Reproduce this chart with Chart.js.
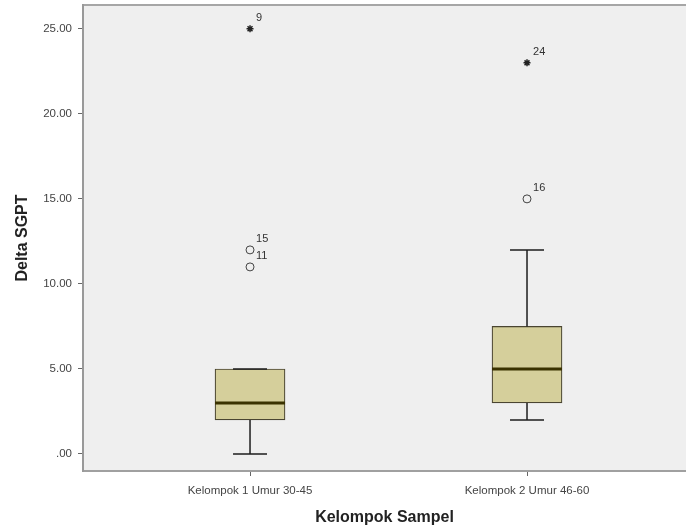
<!DOCTYPE html>
<html>
<head>
<meta charset="utf-8">
<script src="https://cdn.jsdelivr.net/npm/chart.js@4/dist/chart.umd.min.js"></script>
<style>
  html, body { margin: 0; padding: 0; background: #fff; }
</style>
</head>
<body>
<canvas id="box-chart" width="686" height="528"></canvas>
<script>
// groups and box statistics (Delta SGPT)
const groups = ['Kelompok 1 Umur 30-45', 'Kelompok 2 Umur 46-60'];
const groupPos = [1, 2];
const whiskerLow = [0, 2];
const q1 = [2, 3];
const median = [3, 5];
const q3 = [5, 7.5];
const whiskerHigh = [5, 12];

// outliers (o) and extremes (*) with case numbers
const outlierGroup = [1, 1, 2];
const outlierValue = [11, 12, 15];
const outlierCase = ['11', '15', '16'];
const extremeGroup = [1, 2];
const extremeValue = [25, 23];
const extremeCase = ['9', '24'];

const yTicks = [0, 5, 10, 15, 20, 25];

const FONT = "'Liberation Sans', Arial, sans-serif";
const capHalf = 17;
const boxWidth = 70;

const boxExtras = {
  id: 'boxExtras',
  beforeDraw(chart) {
    const { ctx, chartArea: a } = chart;
    ctx.save();
    ctx.fillStyle = '#efefef';
    ctx.fillRect(a.left, a.top, a.right - a.left, a.bottom - a.top);
    ctx.strokeStyle = '#a6a6a6';
    ctx.lineWidth = 2;
    ctx.beginPath();
    ctx.moveTo(a.left, a.top);
    ctx.lineTo(a.right, a.top);
    ctx.stroke();
    ctx.restore();
  },
  afterDatasetsDraw(chart) {
    const { ctx, scales: { x, y } } = chart;
    ctx.save();
    ctx.strokeStyle = '#1e1e1e';
    ctx.lineWidth = 1.5;
    groupPos.forEach((g, i) => {
      const px = x.getPixelForValue(g);
      [[q3[i], whiskerHigh[i]], [q1[i], whiskerLow[i]]].forEach(([from, to]) => {
        const py = y.getPixelForValue(to);
        ctx.beginPath();
        ctx.moveTo(px, y.getPixelForValue(from));
        ctx.lineTo(px, py);
        ctx.moveTo(px - capHalf, py);
        ctx.lineTo(px + capHalf, py);
        ctx.stroke();
      });
      // median
      ctx.save();
      ctx.strokeStyle = '#3a3200';
      ctx.lineWidth = 3;
      const my = y.getPixelForValue(median[i]);
      ctx.beginPath();
      ctx.moveTo(px - boxWidth / 2, my);
      ctx.lineTo(px + boxWidth / 2, my);
      ctx.stroke();
      ctx.restore();
    });

    // case number labels
    ctx.fillStyle = '#333';
    ctx.font = '11px ' + FONT;
    ctx.textAlign = 'left';
    ctx.textBaseline = 'middle';
    const label = (g, v, txt) => {
      ctx.fillText(txt, x.getPixelForValue(g) + 6, y.getPixelForValue(v) - 11);
    };
    outlierGroup.forEach((g, i) => label(g, outlierValue[i], outlierCase[i]));
    extremeGroup.forEach((g, i) => label(g, extremeValue[i], extremeCase[i]));
    ctx.restore();
  }
};

const ctx = document.getElementById('box-chart');

const data = {
  datasets: [
    {
      type: 'bar',
      data: groupPos.map((g, i) => ({ x: g, y: [q1[i], q3[i]] })),
      backgroundColor: '#d5cf9b',
      borderColor: '#4a4531',
      borderWidth: 1.2,
      borderSkipped: false,
      barThickness: boxWidth,
      grouped: false
    },
    {
      type: 'scatter',
      data: outlierGroup.map((g, i) => ({ x: g, y: outlierValue[i] })),
      pointStyle: 'circle',
      pointRadius: 4,
      pointBorderWidth: 1,
      pointBorderColor: '#444',
      pointBackgroundColor: 'rgba(0,0,0,0)'
    },
    {
      type: 'scatter',
      data: extremeGroup.map((g, i) => ({ x: g, y: extremeValue[i] })),
      pointStyle: 'star',
      pointRadius: 3.5,
      pointBorderWidth: 1.5,
      pointBorderColor: '#222',
      pointBackgroundColor: '#222'
    }
  ]
};

const config = {
  type: 'bar',
  data: data,
  plugins: [boxExtras],
  options: {
    responsive: false,
    animation: false,
    layout: { autoPadding: false, padding: { top: 5, left: 0, right: 0, bottom: 0 } },
    plugins: {
      legend: { display: false },
      tooltip: { enabled: false }
    },
    scales: {
      x: {
        type: 'linear',
        min: 0.397,
        max: 2.574,
        offset: false,
        afterBuildTicks: s => { s.ticks = groupPos.map(v => ({ value: v })); },
        afterFit: s => { s.height = 57; s.paddingLeft = 0; s.paddingRight = 0; },
        grid: { drawOnChartArea: false, drawTicks: true, tickLength: 5, tickColor: '#666', offset: false },
        border: { display: true, color: '#a0a0a0', width: 2 },
        ticks: {
          padding: 8,
          maxRotation: 0,
          color: '#444',
          font: { family: FONT, size: 11.5 },
          callback: v => groups[groupPos.indexOf(v)] || ''
        },
        title: {
          display: true,
          text: 'Kelompok Sampel',
          color: '#222',
          font: { family: FONT, size: 16, weight: 'bold' },
          padding: { top: 0, bottom: 1 }
        }
      },
      y: {
        min: -1,
        max: 26.4,
        afterBuildTicks: s => { s.ticks = yTicks.map(v => ({ value: v })); },
        afterFit: s => { s.width = 83; s.paddingTop = 0; s.paddingBottom = 0; },
        grid: { drawOnChartArea: false, drawTicks: true, tickLength: 5, tickColor: '#666' },
        border: { display: true, color: '#999', width: 2 },
        ticks: {
          padding: 6,
          color: '#444',
          font: { family: FONT, size: 11.5 },
          callback: v => (v === 0 ? '.00' : v.toFixed(2))
        },
        title: {
          display: true,
          text: 'Delta SGPT',
          color: '#222',
          font: { family: FONT, size: 16, weight: 'bold' },
          padding: { top: 13, bottom: 0 }
        }
      }
    }
  }
};

const chartInstance = new Chart(ctx, config);
</script>
</body>
</html>
